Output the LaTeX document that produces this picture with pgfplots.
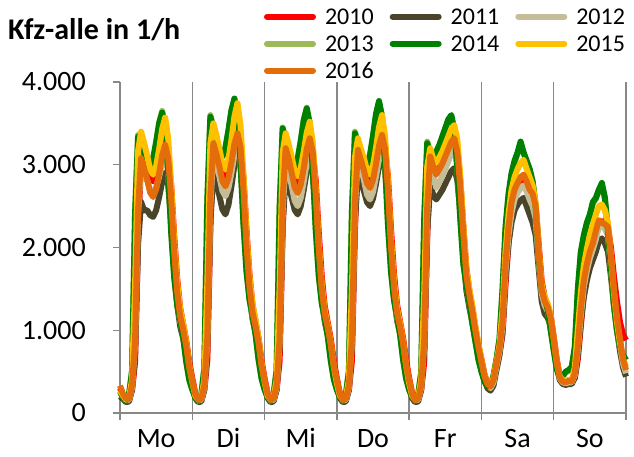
\documentclass[border=0pt]{standalone}
\usepackage{pgfplots}
\pgfplotsset{compat=1.18}
\usepackage{pgfplotstable}
\usepackage{fontspec}
\setmainfont{Carlito}
\definecolor{c10}{HTML}{FF0000}
\definecolor{c11}{HTML}{4A452A}
\definecolor{c12}{HTML}{C4BD97}
\definecolor{c13}{HTML}{9BBB59}
\definecolor{c14}{HTML}{008000}
\definecolor{c15}{HTML}{FFC000}
\definecolor{c16}{HTML}{E46C0A}
\definecolor{gridgray}{HTML}{888888}

% hourly values Mo 0h ... So 23h, plus end point
\pgfplotstableread[row sep=\\]{v\\
300\\220\\160\\160\\280\\610\\2135\\3050\\2960\\2913\\2830\\2800\\2866\\2998\\3152\\3240\\3100\\2754\\2138\\1620\\1264\\1069\\875\\616\\
420\\240\\160\\160\\280\\640\\2240\\3200\\3100\\3008\\2892\\2850\\2925\\3075\\3250\\3350\\3200\\2848\\2211\\1675\\1307\\1106\\905\\637\\
420\\240\\160\\160\\280\\630\\2205\\3150\\3050\\2930\\2798\\2750\\2833\\2998\\3190\\3300\\3150\\2805\\2178\\1650\\1287\\1089\\891\\627\\
420\\240\\160\\160\\280\\630\\2205\\3150\\3050\\2958\\2842\\2800\\2883\\3048\\3240\\3350\\3200\\2848\\2211\\1675\\1307\\1106\\905\\637\\
420\\240\\160\\160\\280\\610\\2135\\3050\\2950\\2900\\2968\\3035\\3125\\3215\\3305\\3350\\3200\\2800\\2250\\1750\\1480\\1270\\1030\\820\\
650\\470\\360\\320\\380\\550\\720\\950\\1550\\2050\\2400\\2600\\2700\\2760\\2800\\2750\\2650\\2600\\2500\\2050\\1600\\1400\\1300\\1180\\
920\\650\\450\\380\\360\\370\\370\\420\\650\\1050\\1450\\1700\\1900\\2000\\2150\\2300\\2320\\2300\\2250\\2000\\1650\\1350\\1100\\950\\
880\\
}\tA

\pgfplotstableread[row sep=\\]{v\\
200\\170\\130\\140\\280\\714\\2040\\2550\\2448\\2451\\2392\\2370\\2450\\2609\\2794\\2900\\2755\\2320\\1740\\1305\\1044\\899\\725\\493\\
320\\180\\130\\140\\280\\812\\2320\\2900\\2784\\2625\\2460\\2400\\2513\\2738\\3000\\3150\\2993\\2520\\1890\\1418\\1134\\977\\788\\536\\
320\\180\\130\\140\\280\\798\\2280\\2850\\2736\\2603\\2454\\2400\\2498\\2693\\2920\\3050\\2898\\2440\\1830\\1373\\1098\\946\\763\\519\\
310\\180\\130\\140\\280\\812\\2320\\2900\\2784\\2680\\2548\\2500\\2590\\2770\\2980\\3100\\2945\\2480\\1860\\1395\\1116\\961\\775\\527\\
310\\180\\130\\140\\280\\770\\2200\\2750\\2640\\2580\\2637\\2694\\2770\\2846\\2922\\2960\\2812\\2427\\1924\\1480\\1273\\1095\\888\\710\\
560\\400\\300\\270\\330\\520\\700\\1000\\1650\\2050\\2300\\2450\\2520\\2570\\2600\\2500\\2400\\2300\\2150\\1750\\1350\\1200\\1150\\1050\\
800\\560\\400\\350\\340\\350\\350\\430\\700\\1100\\1400\\1600\\1750\\1850\\1950\\2080\\2110\\2050\\1950\\1650\\1300\\1000\\750\\550\\
440\\
}\tB

\pgfplotstableread[row sep=\\]{v\\
240\\200\\150\\160\\310\\840\\2400\\3000\\2880\\2813\\2701\\2660\\2726\\2858\\3012\\3100\\2945\\2480\\1860\\1395\\1116\\961\\775\\527\\
360\\210\\150\\160\\310\\882\\2520\\3150\\3024\\2859\\2684\\2620\\2715\\2904\\3124\\3250\\3088\\2600\\1950\\1463\\1170\\1008\\813\\553\\
370\\210\\150\\160\\310\\854\\2440\\3050\\2928\\2748\\2566\\2500\\2598\\2793\\3020\\3150\\2993\\2520\\1890\\1418\\1134\\977\\788\\536\\
360\\210\\150\\160\\310\\868\\2480\\3100\\2976\\2814\\2642\\2580\\2673\\2859\\3076\\3200\\3040\\2560\\1920\\1440\\1152\\992\\800\\544\\
360\\210\\150\\160\\310\\840\\2400\\3000\\2880\\2720\\2789\\2858\\2950\\3042\\3134\\3180\\3021\\2608\\2067\\1590\\1367\\1177\\954\\763\\
600\\440\\340\\300\\370\\570\\750\\1050\\1720\\2150\\2420\\2580\\2660\\2720\\2750\\2680\\2580\\2500\\2350\\1850\\1450\\1300\\1230\\1100\\
860\\600\\420\\370\\360\\370\\370\\460\\760\\1180\\1520\\1720\\1870\\1980\\2100\\2250\\2280\\2220\\2150\\1800\\1420\\1080\\830\\600\\
480\\
}\tC

\pgfplotstableread[row sep=\\]{v\\
270\\200\\160\\230\\520\\2420\\3360\\3230\\3150\\3020\\2960\\3070\\3280\\3510\\3650\\3460\\2920\\2200\\1650\\1320\\1130\\915\\625\\405\\
290\\200\\160\\230\\540\\2590\\3600\\3450\\3320\\3150\\3090\\3200\\3410\\3650\\3790\\3600\\3040\\2290\\1720\\1370\\1180\\955\\650\\420\\
290\\200\\160\\230\\520\\2490\\3450\\3310\\3180\\3020\\2960\\3070\\3290\\3540\\3690\\3500\\2950\\2210\\1660\\1330\\1145\\925\\630\\410\\
290\\200\\160\\230\\510\\2440\\3400\\3260\\3180\\3050\\3000\\3110\\3340\\3600\\3750\\3570\\3010\\2260\\1700\\1360\\1170\\945\\645\\420\\
290\\200\\160\\230\\495\\2360\\3280\\3150\\3080\\3150\\3230\\3330\\3430\\3530\\3580\\3410\\2950\\2340\\1800\\1550\\1335\\1085\\870\\650\\
510\\390\\325\\335\\450\\640\\880\\1460\\2200\\2600\\2870\\3020\\3130\\3250\\3140\\3040\\2940\\2790\\2490\\1900\\1500\\1380\\1250\\1000\\
760\\535\\430\\445\\490\\510\\550\\780\\1460\\1920\\2130\\2280\\2390\\2530\\2590\\2690\\2750\\2590\\2190\\1740\\1300\\1000\\800\\700\\
640\\
}\tD

\pgfplotstableread[row sep=\\]{v\\
260\\190\\150\\220\\501\\2405\\3340\\3206\\3139\\3019\\2975\\3073\\3270\\3499\\3630\\3449\\2904\\2178\\1634\\1307\\1125\\908\\617\\399\\
280\\190\\150\\220\\537\\2578\\3580\\3437\\3316\\3158\\3100\\3205\\3415\\3660\\3800\\3610\\3040\\2280\\1710\\1368\\1178\\950\\646\\418\\
280\\190\\150\\220\\516\\2477\\3440\\3302\\3176\\3018\\2960\\3068\\3284\\3536\\3680\\3496\\2944\\2208\\1656\\1325\\1141\\920\\626\\405\\
280\\190\\150\\220\\507\\2434\\3380\\3245\\3171\\3046\\3000\\3116\\3347\\3616\\3770\\3582\\3016\\2262\\1697\\1357\\1169\\943\\641\\415\\
280\\190\\150\\220\\489\\2347\\3260\\3130\\3080\\3158\\3236\\3340\\3444\\3548\\3600\\3420\\2952\\2340\\1800\\1548\\1332\\1080\\864\\648\\
500\\380\\320\\330\\450\\650\\900\\1500\\2250\\2650\\2900\\3050\\3150\\3280\\3150\\3050\\2950\\2800\\2500\\1900\\1500\\1380\\1250\\1000\\
760\\530\\430\\450\\500\\520\\560\\800\\1500\\1950\\2150\\2300\\2400\\2550\\2600\\2700\\2780\\2600\\2200\\1750\\1300\\1000\\800\\700\\
640\\
}\tE

\pgfplotstableread[row sep=\\]{v\\
270\\210\\160\\190\\400\\1530\\3162\\3400\\3264\\3114\\2942\\2880\\2984\\3191\\3432\\3570\\3320\\2749\\2071\\1571\\1250\\1071\\857\\571\\
380\\210\\160\\190\\400\\1575\\3255\\3500\\3360\\3192\\3007\\2940\\3061\\3302\\3584\\3745\\3483\\2884\\2172\\1648\\1311\\1124\\899\\599\\
380\\210\\160\\190\\400\\1521\\3143\\3380\\3245\\3094\\2922\\2860\\2959\\3157\\3388\\3520\\3274\\2710\\2042\\1549\\1232\\1056\\845\\563\\
360\\210\\160\\190\\400\\1494\\3088\\3320\\3187\\3078\\2933\\2880\\2988\\3204\\3456\\3600\\3348\\2772\\2088\\1584\\1260\\1080\\864\\576\\
360\\210\\160\\190\\400\\1440\\2976\\3200\\3072\\3020\\3089\\3158\\3250\\3342\\3434\\3480\\3306\\2854\\2262\\1740\\1496\\1288\\1044\\835\\
640\\460\\360\\330\\420\\620\\820\\1250\\1950\\2400\\2700\\2850\\2950\\3020\\3060\\2950\\2850\\2750\\2550\\2000\\1550\\1400\\1320\\1180\\
900\\620\\440\\400\\390\\400\\400\\550\\1000\\1450\\1780\\1980\\2150\\2270\\2400\\2500\\2520\\2450\\2300\\1900\\1450\\1100\\850\\650\\
560\\
}\tF

\pgfplotstableread[row sep=\\]{v\\
330\\230\\170\\170\\330\\862\\2464\\3080\\2957\\2822\\2666\\2610\\2705\\2894\\3114\\3240\\3078\\2592\\1944\\1458\\1166\\1004\\810\\551\\
400\\230\\160\\170\\330\\913\\2608\\3260\\3130\\2974\\2802\\2740\\2836\\3028\\3252\\3380\\3211\\2704\\2028\\1521\\1217\\1048\\845\\575\\
400\\230\\160\\170\\330\\896\\2560\\3200\\3072\\2903\\2725\\2660\\2759\\2957\\3188\\3320\\3154\\2656\\1992\\1494\\1195\\1029\\830\\564\\
400\\230\\160\\170\\330\\890\\2544\\3180\\3053\\2927\\2775\\2720\\2816\\3008\\3232\\3360\\3192\\2688\\2016\\1512\\1210\\1042\\840\\571\\
400\\230\\160\\170\\330\\868\\2480\\3100\\2976\\2880\\2946\\3012\\3100\\3188\\3276\\3320\\3154\\2722\\2158\\1660\\1428\\1228\\996\\797\\
620\\450\\350\\320\\400\\600\\780\\1100\\1800\\2250\\2550\\2700\\2780\\2850\\2880\\2800\\2700\\2650\\2500\\1950\\1500\\1350\\1280\\1150\\
900\\620\\430\\380\\370\\390\\380\\480\\800\\1250\\1600\\1800\\1950\\2050\\2200\\2330\\2300\\2280\\2250\\1900\\1500\\1150\\900\\650\\
520\\
}\tG

\begin{document}
\begin{tikzpicture}
\useasboundingbox (-120bp,-44bp) rectangle (514bp,413bp);
\begin{axis}[
  at={(0bp,0bp)}, anchor=south west,
  scale only axis, width=506bp, height=331bp,
  xmin=0, xmax=168, ymin=0, ymax=4000,
  axis x line=bottom, axis y line=left,
  axis line style={-, draw=gridgray, line width=1.5bp},
  xtick={0,24,48,72,96,120,144,168},
  xticklabels={},
  xmajorgrids,
  major grid style={draw=gridgray, line width=1.3bp},
  extra x ticks={12,36,60,84,108,132,156},
  extra x tick labels={Mo,Di,Mi,Do,Fr,Sa,So},
  extra x tick style={major tick length=0pt, grid=none},
  ytick={0,1000,2000,3000,4000},
  yticklabels={0,1.000,2.000,3.000,4.000},
  every tick/.style={draw=gridgray, line width=1.3bp},
  tick align=outside, major tick length=7bp,
  tick label style={font=\fontsize{28bp}{30bp}\selectfont},
  xticklabel style={anchor=base, inner sep=0pt, yshift=-34bp},
  yticklabel style={anchor=east, inner sep=0pt, xshift=-27bp},
  clip=false,
  legend columns=3, legend cell align=left,
  legend style={at={(0.2846,1.22)}, anchor=north west, draw=none, fill=none,
    inner sep=0pt, outer sep=0pt, column sep=0pt, row sep=12bp,
    nodes={inner sep=0pt, text height=15bp, text depth=0pt, font=\fontsize{24bp}{26bp}\selectfont},
    /tikz/every odd column/.append style={column sep=9bp},
    /tikz/every even column/.append style={column sep=16bp}},
  legend image code/.code={\draw[line width=6bp, line cap=round] (0bp,0bp) -- (46bp,0bp);},
  every axis plot/.append style={line width=6bp, line join=round},
]
\addplot[c10] table[x expr=\coordindex, y=v] {\tA}; \addlegendentry{2010}
\addplot[c11] table[x expr=\coordindex, y=v] {\tB}; \addlegendentry{2011}
\addplot[c12] table[x expr=\coordindex, y=v] {\tC}; \addlegendentry{2012}
\addplot[c13] table[x expr=\coordindex, y=v] {\tD}; \addlegendentry{2013}
\addplot[c14] table[x expr=\coordindex, y=v] {\tE}; \addlegendentry{2014}
\addplot[c15] table[x expr=\coordindex, y=v] {\tF}; \addlegendentry{2015}
\addplot[c16] table[x expr=\coordindex, y=v] {\tG}; \addlegendentry{2016}
\end{axis}
\node[anchor=base west, inner sep=0pt, font=\bfseries\fontsize{30bp}{32bp}\selectfont] at (-112bp,373bp) {Kfz-alle in 1/h};
\end{tikzpicture}
\end{document}
